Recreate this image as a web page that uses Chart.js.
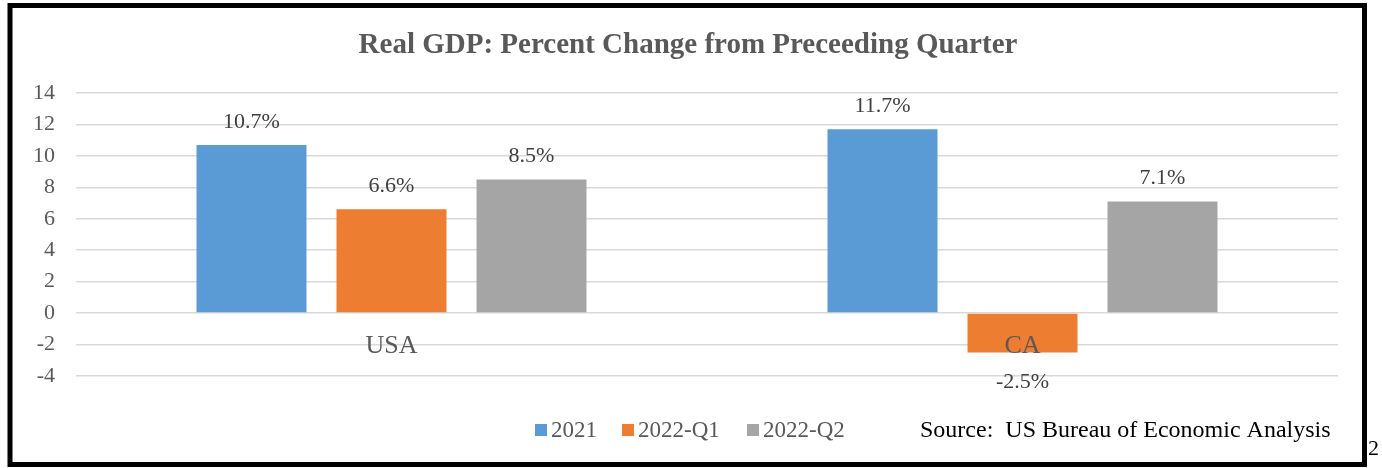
<!DOCTYPE html>
<html>
<head>
<meta charset="utf-8">
<script src="https://cdn.jsdelivr.net/npm/chart.js@4"></script>
<style>
  html, body { margin: 0; padding: 0; background: #fff; }
  #wrap { width: 1382px; height: 468px; position: relative; }
</style>
</head>
<body>
<div id="wrap"><canvas id="gdpChart" width="1382" height="468"></canvas></div>
<script>
// Données du graphique
const categories = ["USA", "CA"];
const seriesNames = ["2021", "2022-Q1", "2022-Q2"];
const values2021 = [10.7, 11.7];
const valuesQ1 = [6.6, -2.5];
const valuesQ2 = [8.5, 7.1];
const yTicks = [-4, -2, 0, 2, 4, 6, 8, 10, 12, 14];

const COLORS = ["#5B9BD5", "#ED7D31", "#A5A5A5"];
const SERIF = "'Liberation Serif', 'Times New Roman', serif";

// Cadre, titre, étiquettes, légende et source
const decorPlugin = {
  id: "decor",
  beforeDraw(chart) {
    const ctx = chart.ctx;
    ctx.save();
    ctx.fillStyle = "#fff";
    ctx.fillRect(0, 0, chart.width, chart.height);
    ctx.restore();
  },
  afterDatasetsDraw(chart) {
    const ctx = chart.ctx;
    ctx.save();
    // étiquettes de valeurs
    ctx.font = "22px " + SERIF;
    ctx.fillStyle = "#404040";
    ctx.textAlign = "center";
    ctx.textBaseline = "middle";
    chart.data.datasets.forEach((ds, i) => {
      chart.getDatasetMeta(i).data.forEach((bar, j) => {
        const v = ds.data[j];
        const y = v >= 0 ? bar.y - 23 : bar.y + 30;
        ctx.fillText(v.toFixed(1) + "%", bar.x, y);
      });
    });
    ctx.restore();
  },
  afterDraw(chart) {
    const ctx = chart.ctx;
    ctx.save();
    // cadre noir
    ctx.strokeStyle = "#000";
    ctx.lineWidth = 5;
    ctx.strokeRect(10, 5.5, 1354.5, 459);

    // titre
    ctx.fillStyle = "#595959";
    ctx.font = "bold 29px " + SERIF;
    ctx.textAlign = "center";
    ctx.textBaseline = "middle";
    ctx.fillText("Real GDP: Percent Change from Preceeding Quarter", 688, 46);

    // légende
    ctx.font = "23px " + SERIF;
    ctx.textAlign = "left";
    const legendX = [535, 622, 747];
    seriesNames.forEach((name, i) => {
      ctx.fillStyle = COLORS[i];
      ctx.fillRect(legendX[i], 424, 12, 12);
      ctx.fillStyle = "#595959";
      ctx.fillText(name, legendX[i] + 16, 431);
    });

    // source
    ctx.fillStyle = "#000";
    ctx.font = "24px " + SERIF;
    ctx.fillText("Source:  US Bureau of Economic Analysis", 920, 431);

    // numéro de page
    ctx.font = "22px " + SERIF;
    ctx.fillText("2", 1368, 449);
    ctx.restore();
  },
};

const ctx = document.getElementById("gdpChart").getContext("2d");
new Chart(ctx, {
  type: "bar",
  data: {
    labels: categories,
    datasets: [
      { label: seriesNames[0], data: values2021, backgroundColor: COLORS[0] },
      { label: seriesNames[1], data: valuesQ1, backgroundColor: COLORS[1] },
      { label: seriesNames[2], data: valuesQ2, backgroundColor: COLORS[2] },
    ],
  },
  options: {
    responsive: false,
    animation: false,
    devicePixelRatio: 1,
    layout: { padding: { top: 93, bottom: 92, left: 0, right: 44 } },
    plugins: {
      legend: { display: false },
      title: { display: false },
      tooltip: { enabled: false },
    },
    datasets: {
      bar: { categoryPercentage: 0.6656, barPercentage: 0.7857 },
    },
    scales: {
      x: {
        position: { y: 0 },
        grid: { display: false, drawTicks: false },
        border: { display: false },
        ticks: {
          z: 1,
          color: "#595959",
          font: { family: SERIF, size: 26 },
          padding: 17,
        },
      },
      y: {
        min: -4,
        max: 14,
        afterFit(scale) { scale.width = 76; },
        afterBuildTicks(scale) { scale.ticks = yTicks.map((v) => ({ value: v })); },
        grid: { color: "#D9D9D9", lineWidth: 1.5, drawTicks: false },
        border: { display: false },
        ticks: {
          color: "#595959",
          font: { family: SERIF, size: 22 },
          padding: 21,
        },
      },
    },
  },
  plugins: [decorPlugin],
});
</script>
</body>
</html>
